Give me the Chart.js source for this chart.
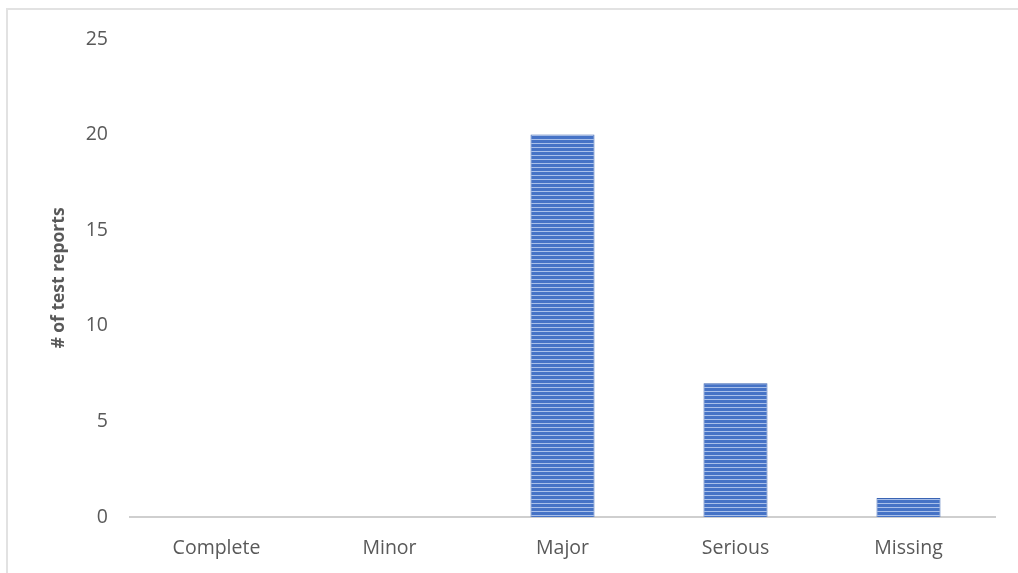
<!DOCTYPE html>
<html>
<head>
<meta charset="utf-8">
<script src="https://cdn.jsdelivr.net/npm/chart.js@4"></script>
<style>
  html, body { margin: 0; padding: 0; background: #fff; }
  #wrap { position: relative; width: 1018px; height: 573px; overflow: hidden; }
  #frame { position: absolute; left: 6px; top: 8px; width: 1100px; height: 700px;
           border-left: 2px solid #e2e2e2; border-top: 2px solid #e2e2e2; box-sizing: border-box; }
  canvas { position: absolute; left: 0; top: 0; }
</style>
</head>
<body>
<div id="wrap">
  <div id="frame"></div>
  <canvas id="c" width="1018" height="573"></canvas>
</div>
<script>
// Severity categories and counts of test reports
const categories = ['Complete', 'Minor', 'Major', 'Serious', 'Missing'];
const reportCounts = [0, 0, 20, 7, 1];
const yTicks = [0, 5, 10, 15, 20, 25];

// Horizontal-stripe fill for the bars
function stripePattern(ctx) {
  const p = document.createElement('canvas');
  p.width = 8; p.height = 4;
  const g = p.getContext('2d');
  g.fillStyle = '#4673c6';
  g.fillRect(0, 0, 8, 4);
  g.fillStyle = '#a9c0ea';
  g.fillRect(0, 3, 8, 1);
  return ctx.createPattern(p, 'repeat');
}

const canvas = document.getElementById('c');
const ctx = canvas.getContext('2d');
const family = '"Open Sans", "Liberation Sans", sans-serif';
const tickFont = { family: family, size: 19.5 };

new Chart(ctx, {
  type: 'bar',
  data: {
    labels: categories,
    datasets: [{
      data: reportCounts,
      backgroundColor: stripePattern(ctx),
      borderColor: '#3a64b3',
      borderWidth: 1,
      categoryPercentage: 1,
      barPercentage: 0.37
    }]
  },
  options: {
    responsive: false,
    animation: false,
    layout: { padding: { left: 8, right: 23, top: 39, bottom: 0 } },
    plugins: { legend: { display: false }, tooltip: { enabled: false } },
    scales: {
      x: {
        grid: { display: false, drawTicks: false },
        border: { display: true, color: '#cfcfcf', width: 2 },
        ticks: { color: '#595959', font: tickFont, padding: 20 },
        afterFit: s => { s.height = 56; }
      },
      y: {
        min: 0, max: 25,
        afterBuildTicks: s => { s.ticks = yTicks.map(v => ({ value: v })); },
        grid: { display: false, drawTicks: false },
        border: { display: false },
        ticks: { color: '#595959', font: tickFont, padding: 22 },
        title: {
          display: true,
          text: '# of test reports',
          color: '#595959',
          font: { family: family, size: 17.5, weight: 'bold' },
          padding: { top: 41, bottom: 0 }
        },
        afterFit: s => { s.width = 122; }
      }
    }
  }
});
</script>
</body>
</html>
